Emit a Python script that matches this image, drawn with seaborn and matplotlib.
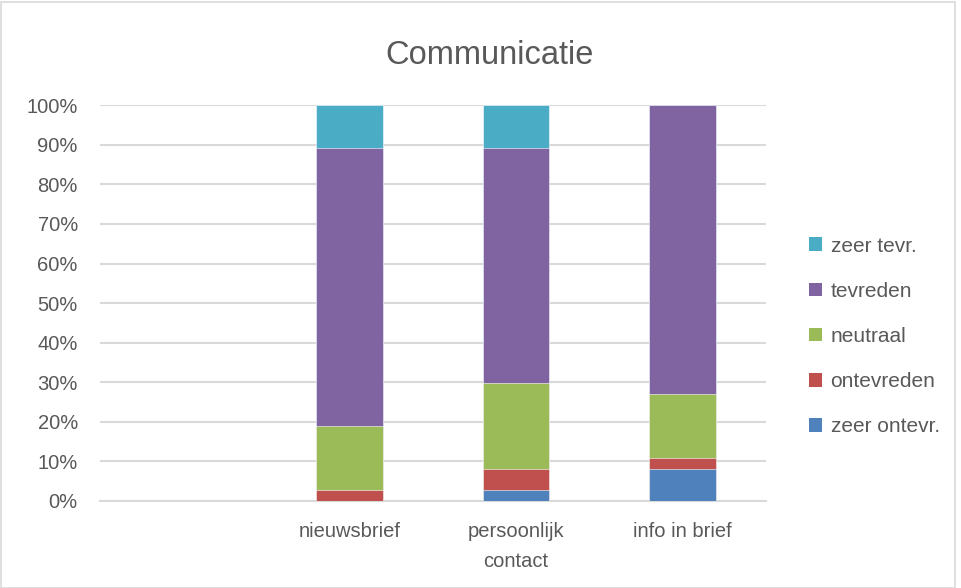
import matplotlib
matplotlib.use("Agg")
import matplotlib.pyplot as plt
import seaborn as sns
import pandas as pd
import numpy as np
from matplotlib.patches import Patch, Rectangle

categories = ["", "nieuwsbrief", "persoonlijk\ncontact", "info in brief"]
series = ["zeer ontevr.", "ontevreden", "neutraal", "tevreden", "zeer tevr."]
zeer_ontevr = [0.0, 0.0, 2.7, 8.1]
ontevreden = [0.0, 2.7, 5.4, 2.7]
neutraal = [0.0, 16.2, 21.6, 16.2]
tevreden = [0.0, 70.3, 59.5, 73.0]
zeer_tevr = [0.0, 10.8, 10.8, 0.0]
colors = ["#4F81BD", "#C0504D", "#9BBB59", "#8064A2", "#4BACC6"]
yticks = [0, 10, 20, 30, 40, 50, 60, 70, 80, 90, 100]
ytick_labels = [f"{v}%" for v in yticks]

values = [zeer_ontevr, ontevreden, neutraal, tevreden, zeer_tevr]
cum = np.cumsum(np.array(values), axis=0)

sns.set_theme(style="white")
plt.rcParams["font.family"] = ["Liberation Sans", "DejaVu Sans"]
txt = "#595959"

fig = plt.figure(figsize=(9.62, 5.88), dpi=100)
ax = fig.add_axes([0.104, 0.148, 0.692, 0.673])

for i in range(len(series) - 1, -1, -1):
    df = pd.DataFrame({"cat": categories, "val": cum[i]})
    sns.barplot(data=df, x="cat", y="val", order=categories, color=colors[i],
                width=0.4, ax=ax, saturation=1, edgecolor="white", linewidth=0.4,
                zorder=3)

ax.set_ylim(0, 100)
ax.set_xlim(-0.5, len(categories) - 0.5)
ax.set_yticks(yticks)
ax.set_yticklabels(ytick_labels, color=txt, fontsize=14.5)
ax.set_xticks(range(len(categories)))
ax.set_xticklabels(categories, color=txt, fontsize=14.5, linespacing=1.75)
ax.set_xlabel("")
ax.set_ylabel("")
ax.tick_params(axis="both", length=0)
ax.tick_params(axis="y", pad=16)
ax.tick_params(axis="x", pad=15)
ax.yaxis.grid(True, color="#D9D9D9", linewidth=1.5, zorder=0)
ax.set_axisbelow(True)
for s in ["top", "right", "left"]:
    ax.spines[s].set_visible(False)
ax.spines["bottom"].set_color("#D9D9D9")
ax.spines["bottom"].set_linewidth(1.5)

fig.text(0.509, 0.905, "Communicatie", ha="center", va="center", fontsize=23.5, color=txt)

handles = [Patch(facecolor=colors[i], edgecolor="none", label=series[i])
           for i in range(len(series) - 1, -1, -1)]
leg = fig.legend(handles=handles, loc="center left", bbox_to_anchor=(0.832, 0.428),
                 frameon=False, fontsize=15, handlelength=0.65, handleheight=0.65,
                 handletextpad=0.4, labelspacing=1.25, borderaxespad=0)
for t in leg.get_texts():
    t.set_color(txt)

fig.patches.append(Rectangle((0.001, 0.0), 0.992, 0.997, transform=fig.transFigure,
                             fill=False, edgecolor="#D9D9D9", linewidth=1.2))

fig.savefig("out.png", dpi=100, facecolor="white")
